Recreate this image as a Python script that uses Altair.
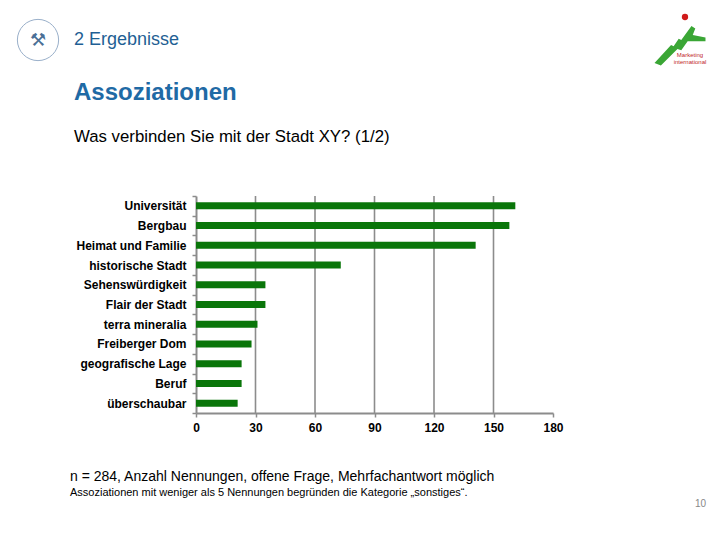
import altair as alt
import pandas as pd

categories = ["Universität", "Bergbau", "Heimat und Familie", "historische Stadt",
              "Sehenswürdigkeit", "Flair der Stadt", "terra mineralia", "Freiberger Dom",
              "geografische Lage", "Beruf", "überschaubar"]
counts = [161, 158, 141, 73, 35, 35, 31, 28, 23, 23, 21]
x_ticks = [0, 30, 60, 90, 120, 150, 180]
grid_values = [30, 60, 90, 120, 150]

df = pd.DataFrame({"Kategorie": categories, "Nennungen": counts})
grid_df = pd.DataFrame({"v": grid_values})

FONT = "Liberation Sans"
W, H = 357, 217

x_scale = alt.Scale(domain=[0, 180], nice=False)
x_axis = alt.Axis(values=x_ticks, title=None, grid=False, ticks=True, tickSize=4,
                  tickColor="#8c8c8c", tickWidth=1.5, labelFlush=False,
                  domainColor="#8c8c8c", domainWidth=2, labelFont=FONT,
                  labelFontSize=12, labelFontWeight="bold", labelColor="#000",
                  labelPadding=5)

grid = alt.Chart(grid_df).mark_rule(color="#8c8c8c", strokeWidth=1.6).encode(
    x=alt.X("v:Q", scale=x_scale, axis=x_axis)
)

bars = alt.Chart(df).mark_bar(color="#0a760a", size=7).encode(
    x=alt.X("Nennungen:Q", scale=x_scale, axis=x_axis),
    y=alt.Y("Kategorie:N", sort=None,
            axis=alt.Axis(title=None, tickBand="extent", tickSize=4, tickColor="#8c8c8c",
                          tickWidth=1.5, domainColor="#8c8c8c", domainWidth=2,
                          labelFont=FONT, labelFontSize=12, labelFontWeight="bold",
                          labelColor="#000", labelPadding=6),
            scale=alt.Scale(paddingInner=0, paddingOuter=0)),
)

def txt(s, x, y, size, color="#000", weight="normal", align="left"):
    return alt.Chart(pd.DataFrame({"t": [s]})).mark_text(
        align=align, baseline="middle", font=FONT, fontSize=size, color=color,
        fontWeight=weight
    ).encode(x=alt.value(x), y=alt.value(y), text="t:N")

ox, oy = 196, 196
texts = [
    txt("2 Ergebnisse", 74 - ox, 40 - oy, 18, "#1f5f94"),
    txt("Assoziationen", 74 - ox, 93 - oy, 24, "#1f6aa5", "bold"),
    txt("Was verbinden Sie mit der Stadt XY? (1/2)", 74 - ox, 137 - oy, 16.8),
    txt("n = 284, Anzahl Nennungen, offene Frage, Mehrfachantwort möglich", 70 - ox, 477 - oy, 14),
    txt("Assoziationen mit weniger als 5 Nennungen begründen die Kategorie „sonstiges“.", 70 - ox, 493 - oy, 11),
    txt("10", 706 - ox, 504 - oy, 10, "#888", align="right"),
    txt("⚒", 38 - ox, 41 - oy, 18, "#4a6f96", align="center"),
    txt("Marketing", 690 - ox, 55 - oy, 6, "#c0282a", align="center"),
    txt("international", 690 - ox, 62 - oy, 6, "#c0282a", align="center"),
]

circle = alt.Chart(pd.DataFrame({"a": [0]})).mark_point(
    shape="circle", size=1700, stroke="#7f9bbb", strokeWidth=0.8, filled=False, opacity=1
).encode(x=alt.value(38 - ox), y=alt.value(40 - oy))

green_shape = "M -1 0.9 L -0.75 1 L -0.1 0.35 L 0.05 0.4 L 0.3 0.05 L 1 0.05 L 1 -0.1 L 0.5 -0.2 L 0.6 -0.45 L 0.45 -0.55 L 0.05 0 L -0.05 -0.05 L -0.25 0.25 L -0.35 0.2 Z"
logo = alt.Chart(pd.DataFrame({"a": [0]})).mark_point(
    shape=green_shape, size=2600, fill="#3aa635", filled=True, opacity=1, strokeWidth=0
).encode(x=alt.value(680 - ox), y=alt.value(40 - oy))
dot = alt.Chart(pd.DataFrame({"a": [0]})).mark_point(
    shape="circle", size=40, fill="#d01a1a", filled=True, opacity=1
).encode(x=alt.value(685 - ox), y=alt.value(17 - oy))

chart = alt.layer(grid, bars, circle, logo, dot, *texts).properties(
    width=W, height=H,
    padding={"left": 188, "top": 188, "right": 720 - 16 - 188 - W, "bottom": 540 - 16 - 188 - H},
    autosize=alt.AutoSizeParams(type="none"),
    background="white",
).configure_view(stroke=None)

chart.save("out.html", embed_options={"renderer": "svg", "actions": False})
